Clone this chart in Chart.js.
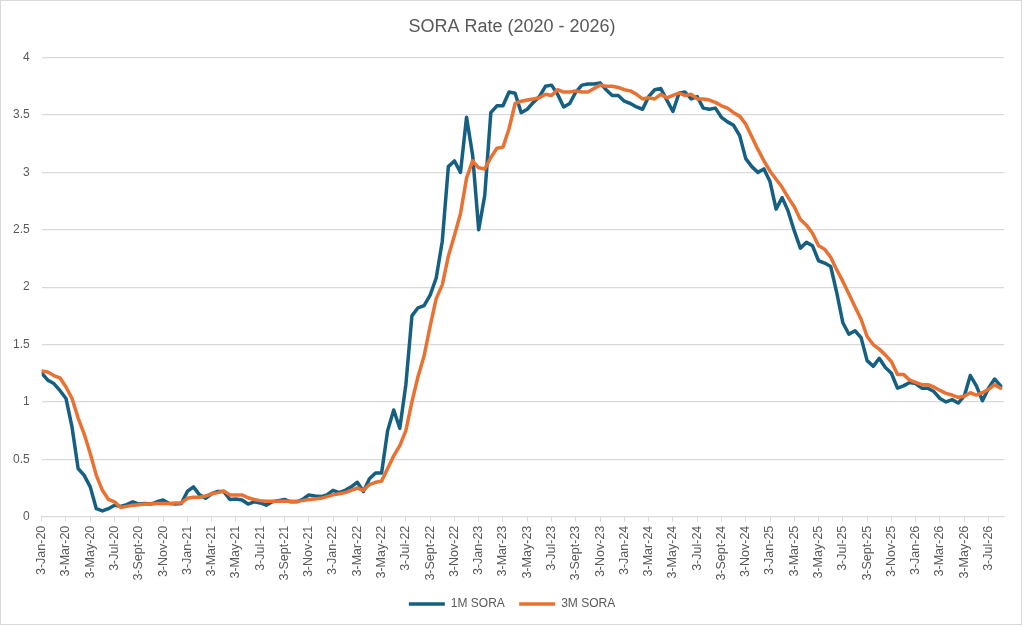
<!DOCTYPE html>
<html lang="en">
<head>
    <meta charset="UTF-8">
    <title>SORA Rate (2020 - 2026)</title>
    <style>
        body {
            margin: 0;
            padding: 0;
            background: #ffffff;
        }

        .frame {
            position: relative;
            width: 1024px;
            height: 627px;
        }

        .frame .edge {
            position: absolute;
            left: 0;
            top: 0;
            width: 1020px;
            height: 623px;
            border: 1px solid #d9d9d9;
            pointer-events: none;
        }

        canvas {
            display: block;
        }
    </style>
</head>
<body>
    <div class="frame">
        <canvas id="soraChart" width="1024" height="627"></canvas>
        <div class="edge"></div>
    </div>

    <script src="https://cdn.jsdelivr.net/npm/chart.js"></script>
    <script>
        // one reading every half month, starting 3-Jan-20
        const stepMonths = 0.5;

        const tickLabels = [
            '3-Jan-20', '3-Mar-20', '3-May-20', '3-Jul-20', '3-Sept-20', '3-Nov-20',
            '3-Jan-21', '3-Mar-21', '3-May-21', '3-Jul-21', '3-Sept-21', '3-Nov-21',
            '3-Jan-22', '3-Mar-22', '3-May-22', '3-Jul-22', '3-Sept-22', '3-Nov-22',
            '3-Jan-23', '3-Mar-23', '3-May-23', '3-Jul-23', '3-Sept-23', '3-Nov-23',
            '3-Jan-24', '3-Mar-24', '3-May-24', '3-Jul-24', '3-Sept-24', '3-Nov-24',
            '3-Jan-25', '3-Mar-25', '3-May-25', '3-Jul-25', '3-Sept-25', '3-Nov-25',
            '3-Jan-26', '3-Mar-26', '3-May-26', '3-Jul-26'
        ];

        const oneMonthSora = [
            1.25, 1.19, 1.16, 1.10, 1.03, 0.78, 0.42, 0.36, 0.26, 0.07, 0.05, 0.07,
            0.10, 0.09, 0.105, 0.13, 0.11, 0.115, 0.11, 0.13, 0.145, 0.115, 0.11, 0.115,
            0.22, 0.26, 0.19, 0.16, 0.20, 0.22, 0.22, 0.15, 0.155, 0.145, 0.11, 0.13,
            0.12, 0.10, 0.13, 0.14, 0.15, 0.13, 0.13, 0.15, 0.19, 0.18, 0.175, 0.19,
            0.23, 0.21, 0.23, 0.26, 0.30, 0.22, 0.33, 0.38, 0.38, 0.75, 0.93, 0.77,
            1.15, 1.75, 1.82, 1.84, 1.93, 2.08, 2.40, 3.05, 3.10, 3.00, 3.48, 3.15,
            2.50, 2.80, 3.52, 3.58, 3.58, 3.70, 3.69, 3.52, 3.55, 3.61, 3.66, 3.75,
            3.76, 3.68, 3.57, 3.60, 3.70, 3.76, 3.77, 3.77, 3.78, 3.72, 3.67, 3.67,
            3.62, 3.60, 3.57, 3.55, 3.66, 3.72, 3.73, 3.63, 3.53, 3.69, 3.70, 3.64,
            3.66, 3.56, 3.55, 3.56, 3.48, 3.44, 3.41, 3.32, 3.12, 3.05, 3.00, 3.03,
            2.92, 2.68, 2.78, 2.66, 2.49, 2.34, 2.39, 2.36, 2.23, 2.21, 2.18, 1.95,
            1.69, 1.59, 1.62, 1.56, 1.36, 1.31, 1.38, 1.30, 1.25, 1.12, 1.14, 1.17,
            1.16, 1.12, 1.12, 1.09, 1.03, 1.00, 1.02, 0.99, 1.05, 1.23, 1.14, 1.01,
            1.12, 1.20, 1.14
        ];

        const threeMonthSora = [
            1.27, 1.26, 1.23, 1.21, 1.13, 1.03, 0.86, 0.72, 0.55, 0.36, 0.23, 0.15,
            0.13, 0.08, 0.09, 0.10, 0.105, 0.11, 0.11, 0.115, 0.115, 0.115, 0.12, 0.12,
            0.16, 0.17, 0.17, 0.18, 0.20, 0.21, 0.225, 0.19, 0.19, 0.19, 0.165, 0.15,
            0.14, 0.135, 0.135, 0.135, 0.135, 0.135, 0.135, 0.14, 0.15, 0.155, 0.16, 0.175,
            0.19, 0.20, 0.21, 0.23, 0.25, 0.23, 0.28, 0.30, 0.31, 0.42, 0.53, 0.62,
            0.75, 1.00, 1.22, 1.40, 1.66, 1.90, 2.02, 2.27, 2.45, 2.64, 2.95, 3.10,
            3.04, 3.03, 3.13, 3.21, 3.22, 3.38, 3.60, 3.62, 3.63, 3.64, 3.65, 3.68,
            3.67, 3.72, 3.70, 3.70, 3.71, 3.70, 3.70, 3.73, 3.76, 3.75, 3.75, 3.74,
            3.72, 3.71, 3.68, 3.64, 3.65, 3.64, 3.68, 3.65, 3.67, 3.69, 3.67, 3.68,
            3.64, 3.64, 3.63, 3.61, 3.58, 3.56, 3.52, 3.49, 3.42, 3.31, 3.20, 3.10,
            3.01, 2.94, 2.87, 2.78, 2.70, 2.59, 2.54, 2.47, 2.36, 2.33, 2.26, 2.15,
            2.05, 1.94, 1.83, 1.72, 1.57, 1.50, 1.46, 1.41, 1.35, 1.24, 1.24, 1.19,
            1.17, 1.15, 1.15, 1.13, 1.10, 1.075, 1.06, 1.04, 1.05, 1.08, 1.06, 1.08,
            1.11, 1.15, 1.12
        ];

        const textColor = '#595959';
        const gridColor = '#d9d9d9';
        const fontFamily = '"Liberation Sans", Arial, sans-serif';

        function toPoints(values) {
            return values.map((v, i) => ({ x: i * stepMonths, y: v }));
        }

        new Chart(document.getElementById('soraChart'), {
            type: 'line',
            data: {
                datasets: [
                    {
                        label: '1M SORA',
                        data: toPoints(oneMonthSora),
                        borderColor: '#156082',
                        backgroundColor: '#156082',
                        borderWidth: 3.5,
                        pointRadius: 0,
                        tension: 0,
                        borderJoinStyle: 'round',
                        borderCapStyle: 'round',
                        order: 2
                    },
                    {
                        label: '3M SORA',
                        data: toPoints(threeMonthSora),
                        borderColor: '#E97132',
                        backgroundColor: '#E97132',
                        borderWidth: 3.5,
                        pointRadius: 0,
                        tension: 0,
                        borderJoinStyle: 'round',
                        borderCapStyle: 'round',
                        order: 1
                    }
                ]
            },
            options: {
                responsive: false,
                animation: false,
                layout: { padding: { left: 0, right: 0, top: 0, bottom: 7 } },
                plugins: {
                    title: {
                        display: true,
                        text: 'SORA Rate (2020 - 2026)',
                        color: textColor,
                        font: { family: fontFamily, size: 18, weight: 'normal' },
                        padding: { top: 16, bottom: 20 }
                    },
                    legend: {
                        position: 'bottom',
                        labels: {
                            color: textColor,
                            font: { family: fontFamily, size: 12 },
                            usePointStyle: true,
                            pointStyleWidth: 36,
                            pointStyle: 'line',
                            boxHeight: 12,
                            padding: 14.3,
                            sort: (a, b) => a.datasetIndex - b.datasetIndex
                        }
                    },
                    tooltip: { enabled: false }
                },
                scales: {
                    x: {
                        type: 'linear',
                        min: 0,
                        max: 79.3,
                        afterBuildTicks: (scale) => {
                            scale.ticks = tickLabels.map((_, i) => ({ value: i * 2 }));
                        },
                        afterFit: (scale) => { scale.height = 67; },
                        ticks: {
                            autoSkip: false,
                            minRotation: 90,
                            maxRotation: 90,
                            padding: 4,
                            color: textColor,
                            font: { family: fontFamily, size: 12.5 },
                            callback: (value, index) => tickLabels[index]
                        },
                        grid: {
                            drawOnChartArea: false,
                            drawTicks: true,
                            tickLength: 5,
                            color: gridColor
                        },
                        border: { display: true, color: gridColor, width: 1 }
                    },
                    y: {
                        min: 0,
                        max: 4,
                        afterFit: (scale) => { scale.width = 41.7; },
                        ticks: {
                            stepSize: 0.5,
                            padding: 12,
                            color: textColor,
                            font: { family: fontFamily, size: 12 },
                            callback: (value) => String(value)
                        },
                        grid: {
                            color: gridColor,
                            lineWidth: 1.3,
                            drawTicks: false
                        },
                        border: { display: false }
                    },
                    // empty right-hand margin, keeps the title and legend centred on the page
                    rightGutter: {
                        type: 'linear',
                        axis: 'y',
                        position: 'right',
                        afterFit: (scale) => { scale.width = 19.7; },
                        ticks: { display: false },
                        grid: { display: false },
                        border: { display: false }
                    }
                }
            }
        });
    </script>
</body>
</html>
